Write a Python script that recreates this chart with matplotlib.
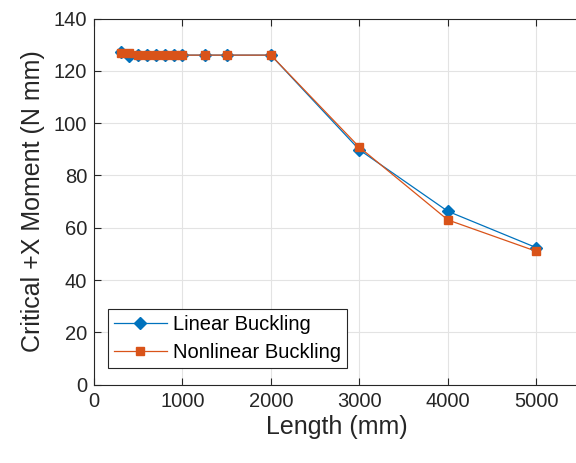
import numpy as np
import matplotlib.pyplot as plt

plt.rcParams['font.family'] = ['Liberation Sans', 'DejaVu Sans']

# Data
length_mm = [300, 400, 500, 600, 700, 800, 900, 1000, 1250, 1500, 2000, 3000, 4000, 5000]
linear_moment = [127.2, 125.6, 126.0, 126.0, 126.0, 126.0, 126.0, 126.0, 126.0, 126.0, 126.0, 89.8, 66.3, 52.4]
nonlinear_moment = [126.8, 126.9, 126.0, 126.0, 126.0, 126.0, 126.0, 126.0, 126.0, 126.0, 126.0, 90.8, 63.0, 51.0]

blue = '#0072BD'
orange = '#D95319'
axis_color = '#262626'

fig = plt.figure(figsize=(5.76, 4.63), dpi=100)
ax = fig.add_axes([94 / 576, 78.3 / 463, 486.5 / 576, 366.2 / 463])

ax.plot(length_mm, linear_moment, color=blue, lw=0.9, marker='D',
        markersize=6, markerfacecolor=blue, markeredgecolor=blue,
        label='Linear Buckling')
ax.plot(length_mm, nonlinear_moment, color=orange, lw=0.9, marker='s',
        markersize=5.5, markerfacecolor=orange, markeredgecolor=orange,
        label='Nonlinear Buckling')

ax.set_xlim(0, 5500)
ax.set_ylim(0, 140)
ax.set_xticks(np.arange(0, 5001, 1000))
ax.set_yticks(np.arange(0, 141, 20))

ax.grid(True, color='#e3e3e3', lw=0.8)
ax.set_axisbelow(True)
# the right side of the box falls outside the figure in the original
ax.tick_params(direction='in', length=5, width=0.8, colors=axis_color,
               labelsize=14.5, top=True, right=False, pad=5)
for s in ax.spines.values():
    s.set_color(axis_color)
    s.set_linewidth(0.8)
ax.spines['right'].set_visible(False)

ax.set_xlabel('Length (mm)', fontsize=18, color=axis_color, labelpad=3)
ax.set_ylabel('Critical +X Moment (N mm)', fontsize=18, color=axis_color, labelpad=6)

leg = ax.legend(loc='lower left', bbox_to_anchor=(0.029, 0.046), fontsize=14.5,
                fancybox=False, framealpha=1, edgecolor=axis_color,
                borderpad=0.3, handlelength=2.6, handletextpad=0.3,
                labelspacing=0.45, borderaxespad=0)
leg.get_frame().set_linewidth(0.8)

fig.savefig('out.png', dpi=100)
